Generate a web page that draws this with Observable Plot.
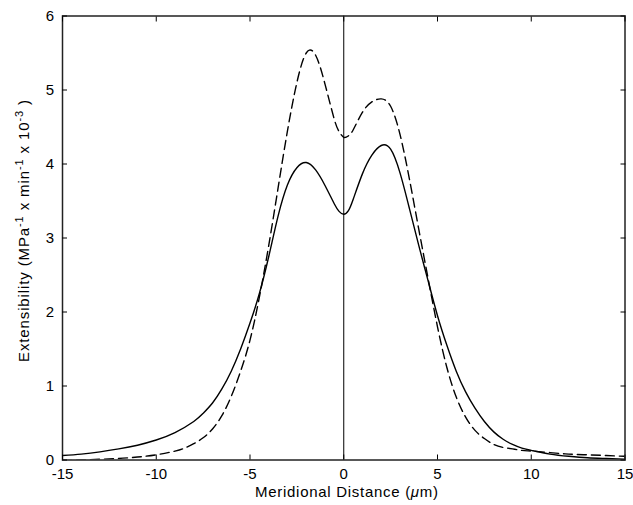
<!DOCTYPE html>
<html><head><meta charset="utf-8">
<script src="https://cdn.jsdelivr.net/npm/d3@7"></script>
<script src="https://cdn.jsdelivr.net/npm/@observablehq/plot@0.6"></script>
<style>html,body{margin:0;padding:0;background:#fff;} svg{display:block;}</style>
</head><body><div id="chart"></div>
<script>
// Solid curve
const solidX = [-15,-14,-13,-12,-11,-10,-9,-8,-7.5,-7,-6.5,-6,-5.5,-5,-4.5,-4,-3.5,-3,-2.5,-2,-1.5,-1,-0.5,-0.25,0,0.25,0.5,1,1.5,2,2.5,3,3.5,4,4.5,5,5.5,6,6.5,7,7.5,8,8.5,9,9.5,10,11,12,13,14,15];
const solidY = [0.06,0.08,0.11,0.15,0.2,0.27,0.37,0.52,0.63,0.77,0.96,1.2,1.5,1.85,2.25,2.75,3.3,3.72,3.95,4.02,3.92,3.71,3.46,3.36,3.32,3.37,3.52,3.87,4.12,4.25,4.2,3.88,3.4,2.9,2.42,1.95,1.55,1.2,0.92,0.7,0.52,0.38,0.28,0.21,0.16,0.13,0.08,0.05,0.03,0.02,0.01];
// Dashed curve
const dashedX = [-15,-14,-13,-12,-11,-10,-9,-8.5,-8,-7.5,-7,-6.5,-6,-5.5,-5,-4.5,-4,-3.5,-3,-2.5,-2,-1.5,-1,-0.5,-0.25,0,0.25,0.5,1,1.5,2,2.5,3,3.5,4,4.5,5,5.5,6,6.5,7,7.5,8,8.5,9,9.5,10,11,12,13,14,15];
const dashedY = [-0.01,0,0.01,0.02,0.04,0.07,0.12,0.16,0.22,0.3,0.42,0.6,0.86,1.2,1.62,2.2,2.9,3.68,4.45,5.1,5.5,5.47,5.08,4.6,4.44,4.36,4.38,4.46,4.7,4.84,4.88,4.78,4.4,3.8,3.12,2.45,1.8,1.25,0.85,0.58,0.4,0.29,0.21,0.17,0.15,0.13,0.12,0.1,0.08,0.07,0.06,0.05];
const xTicks = [-15,-10,-5,0,5,10,15];
const yTicks = [0,1,2,3,4,5,6];
const xLabel = "Meridional Distance (μm)";
const yLabel = "Extensibility (MPa-1 x min-1 x 10-3 )";

const solid = solidX.map((x, i) => ({x, y: solidY[i]}));
const dashed = dashedX.map((x, i) => ({x, y: dashedY[i]}));

const chart = Plot.plot({
  width: 633,
  height: 505,
  marginLeft: 62,
  marginRight: 8.5,
  marginTop: 15.5,
  marginBottom: 45.5,
  style: {fontFamily: "'Liberation Sans', Arial, Helvetica, sans-serif", fontSize: "15px", color: "#000", background: "#fff"},
  x: {domain: [-15, 15]},
  y: {domain: [0, 6]},
  marks: [
    Plot.ruleX([0], {stroke: "#000", strokeWidth: 1}),
    Plot.line(solid, {x: "x", y: "y", curve: "natural", stroke: "#000", strokeWidth: 1.4, clip: true}),
    Plot.line(dashed, {x: "x", y: "y", curve: "natural", stroke: "#000", strokeWidth: 1.4, strokeDasharray: "9,5", clip: true}),
    Plot.frame({stroke: "#222", strokeWidth: 1.5}),
    Plot.axisX(xTicks, {anchor: "bottom", tickSize: -5, tickPadding: 12.9, fontSize: 15, tickFormat: d => String(d), label: xLabel, labelAnchor: "center", labelArrow: "none", labelOffset: 37}),
    Plot.axisX(xTicks, {anchor: "top", tickSize: -5, tickFormat: () => "", label: null}),
    Plot.axisY(yTicks, {anchor: "left", tickSize: -5, tickPadding: 13.5, fontSize: 15, tickFormat: d => String(d), label: yLabel, labelAnchor: "center", labelArrow: "none", labelOffset: 44}),
    Plot.axisY(yTicks, {anchor: "right", tickSize: -5, tickFormat: () => "", label: null})
  ]
});
document.getElementById("chart").appendChild(chart);

// superscripts / italic in axis labels, placed as in the reference
function rich(g, parts, transform, length) {
  if (!g) return;
  const t = g.querySelector("text");
  if (!t) return;
  g.removeAttribute("transform");
  while (t.firstChild) t.removeChild(t.firstChild);
  ["x", "y", "dx", "dy"].forEach(a => t.removeAttribute(a));
  t.setAttribute("transform", transform);
  t.setAttribute("text-anchor", "middle");
  t.setAttribute("font-size", "15px");
  t.setAttribute("textLength", length);
  t.setAttribute("lengthAdjust", "spacing");
  const ns = "http://www.w3.org/2000/svg";
  let shift = 0;
  for (const p of parts) {
    const s = document.createElementNS(ns, "tspan");
    s.textContent = p.t;
    const target = p.sup ? -6 : 0;
    if (target !== shift) { s.setAttribute("dy", target - shift); shift = target; }
    if (p.sup) s.setAttribute("font-size", "11px");
    if (p.it) s.setAttribute("font-style", "italic");
    t.appendChild(s);
  }
}
rich(chart.querySelector('[aria-label="y-axis label"]'), [
  {t: "Extensibility (MPa"}, {t: "-1", sup: true}, {t: " x min"}, {t: "-1", sup: true}, {t: " x 10"}, {t: "-3", sup: true}, {t: " )"}
], "translate(28.5,231) rotate(-90)", 262);
rich(chart.querySelector('[aria-label="x-axis label"]'), [
  {t: "Meridional Distance ("}, {t: "μ", it: true}, {t: "m)"}
], "translate(346.5,497)", 183);
</script>
</body></html>
